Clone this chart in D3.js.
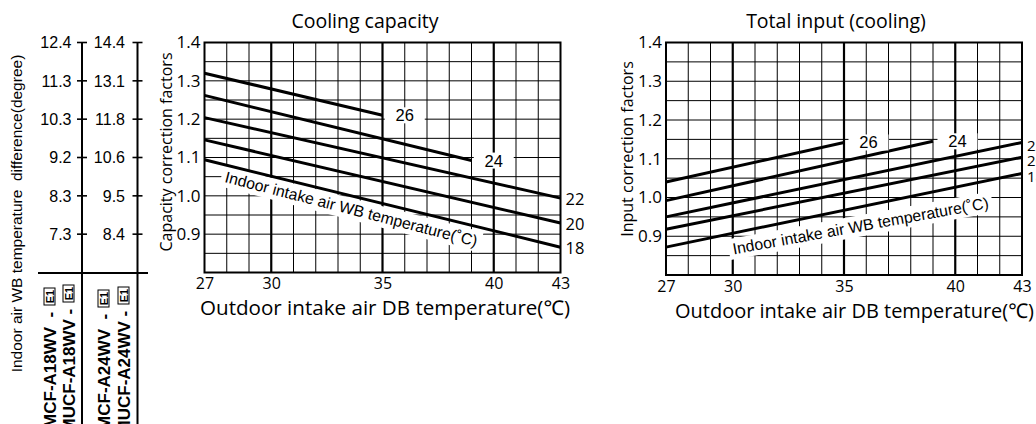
<!DOCTYPE html>
<html>
<head>
<meta charset="utf-8">
<script src="https://cdn.jsdelivr.net/npm/d3@7"></script>
<style>
  html, body { margin: 0; padding: 0; background: #fff; }
  svg { display: block; }
</style>
</head>
<body>
<svg id="chart" width="1036" height="424"></svg>
<script>
'use strict'

// outdoor intake air DB temperature (deg C)
const dbTicks = [27, 30, 35, 40, 43]
const dbMajor = [30, 35, 40]
// indoor intake air WB temperature curves (deg C)
const wbCurves = ['26', '24', '22', '20', '18']
const curveStartDB = [27, 27, 27, 27, 27]
const curveEndDB = [35, 39, 43, 43, 43]
// capacity correction factor at start / end of each curve
const coolingStart = [1.32, 1.262, 1.204, 1.146, 1.094]
const coolingEnd = [1.21, 1.092, 0.994, 0.929, 0.866]
// input correction factor at start / end of each curve
const inputStart = [1.04, 0.992, 0.95, 0.918, 0.872]
const inputEnd = [1.142, 1.145, 1.142, 1.104, 1.062]
const factorTicks = [1.4, 1.3, 1.2, 1.1, 1.0, 0.9]
// indoor air WB temperature difference, same rows as factorTicks
const wbDiff18 = ['12.4', '11.3', '10.3', '9.2', '8.3', '7.3']
const wbDiff24 = ['14.4', '13.1', '11.8', '10.6', '9.5', '8.4']
const modelNames = ['MCF-A18WV', 'MUCF-A18WV', 'MCF-A24WV', 'MUCF-A24WV']
const modelGaps = ['  - ', ' - ', '  - ', ' - ']

const FRUT = "'Open Sans', 'Noto Sans', sans-serif"
const ARIAL = "'Liberation Sans', Arial, sans-serif"
const svg = d3.select('#chart')

function panel (opt) {
  const x = d3.scaleLinear().domain([27, 43]).range([opt.left, opt.right])
  const y = d3.scaleLinear().domain([0.8, 1.4]).range([opt.bottom, opt.top])
  const g = svg.append('g')

  // grid
  g.append('g').selectAll('line')
    .data(d3.range(16, 29).map(i => i * 0.05))
    .join('line')
    .attr('x1', opt.left).attr('x2', opt.right)
    .attr('y1', d => y(d)).attr('y2', d => y(d))
    .attr('stroke', '#000').attr('stroke-width', 1)
  g.append('g').selectAll('line')
    .data(d3.range(27, 44))
    .join('line')
    .attr('x1', d => x(d)).attr('x2', d => x(d))
    .attr('y1', opt.top).attr('y2', opt.bottom)
    .attr('stroke', '#000')
    .attr('stroke-width', d => dbMajor.includes(d) ? 2.2 : 1)

  // caption along the curves, on a white band
  const cap = g.append('g')
    .attr('transform', `translate(${x(opt.capX)},${y(opt.capY)}) rotate(${opt.capAngle})`)
  const capText = cap.append('text')
    .attr('font-family', ARIAL).attr('font-size', 15.8)
    .text('Indoor intake air WB temperature(˚C)')
  const bb = capText.node().getBBox()
  cap.insert('rect', 'text')
    .attr('x', bb.x - 4).attr('y', bb.y - 2)
    .attr('width', bb.width + 8).attr('height', bb.height + 4)
    .attr('fill', '#fff')

  // curves
  const curves = wbCurves.map((k, i) => ({
    key: k,
    end: [curveEndDB[i], opt.end[i]],
    pts: [[curveStartDB[i], opt.start[i]], [curveEndDB[i], opt.end[i]]]
  }))
  const line = d3.line().x(d => x(d[0])).y(d => y(d[1]))
  g.append('g').selectAll('path')
    .data(curves)
    .join('path')
    .attr('d', d => line(d.pts))
    .attr('fill', 'none').attr('stroke', '#000').attr('stroke-width', 3)

  // curve labels: inside the plot when the curve stops early, else on the right
  const inner = curves.filter(d => d.end[0] < 43)
  const lab = g.append('g').selectAll('g')
    .data(inner)
    .join('g')
    .attr('transform', d => `translate(${x(d.end[0] + opt.labShift)},${y(d.end[1])})`)
  lab.append('rect')
    .attr('x', -20).attr('y', -8).attr('width', 40).attr('height', 16)
    .attr('fill', '#fff')
  lab.append('text')
    .attr('text-anchor', 'middle').attr('dy', '0.36em')
    .attr('font-family', ARIAL).attr('font-size', 16.5)
    .text(d => d.key)
  g.append('g').selectAll('text')
    .data(curves.filter(d => d.end[0] === 43))
    .join('text')
    .attr('x', opt.right + 5)
    .attr('y', d => y(d.end[1]) + opt.rightDy)
    .attr('dy', '0.36em')
    .attr('font-family', FRUT).attr('font-size', opt.rightSize)
    .text(d => d.key)

  // frame
  g.append('rect')
    .attr('x', opt.left).attr('y', opt.top)
    .attr('width', opt.right - opt.left).attr('height', opt.bottom - opt.top)
    .attr('fill', 'none').attr('stroke', '#000').attr('stroke-width', 2)

  // axes
  const ya = g.append('g')
    .attr('transform', `translate(${opt.left},0)`)
    .call(d3.axisLeft(y).tickValues(factorTicks).tickSize(0).tickPadding(4)
      .tickFormat(d3.format('.1f')))
  ya.select('.domain').remove()
  ya.attr('font-family', FRUT).attr('font-size', 17)

  const xa = g.append('g')
    .attr('transform', `translate(0,${opt.bottom})`)
    .call(d3.axisBottom(x).tickValues(dbTicks).tickSize(0).tickPadding(opt.xPad))
  xa.select('.domain').remove()
  xa.attr('font-family', FRUT).attr('font-size', 16)

  g.append('text')
    .attr('x', opt.titleX).attr('y', 27.5)
    .attr('text-anchor', 'middle')
    .attr('font-family', FRUT).attr('font-size', 19.5)
    .text(opt.title)
  g.append('text')
    .attr('x', opt.xTitleFrom).attr('y', opt.bottom + opt.xTitleDy)
    .attr('textLength', opt.xTitleTo - opt.xTitleFrom)
    .attr('lengthAdjust', 'spacingAndGlyphs')
    .attr('font-family', FRUT).attr('font-size', 20.3)
    .text('Outdoor intake air DB temperature(℃)')
  g.append('text')
    .attr('transform', `translate(${opt.yTitleX},${opt.yTitleY}) rotate(-90)`)
    .attr('text-anchor', 'middle')
    .attr('font-family', FRUT).attr('font-size', 16)
    .text(opt.yTitle)

  return { x, y }
}

const cooling = panel({
  left: 204.5, right: 560.5, top: 42.5, bottom: 272.5,
  start: coolingStart, end: coolingEnd,
  capX: 27.88, capY: 1.036, capAngle: 14.4,
  labShift: 1.0, rightDy: 1, rightSize: 16.5, xPad: 5,
  title: 'Cooling capacity', titleX: 365,
  xTitleFrom: 200, xTitleTo: 570, xTitleDy: 42.7,
  yTitle: 'Capacity correction factors', yTitleX: 172, yTitleY: 152
})

panel({
  left: 666, right: 1022, top: 42.5, bottom: 275,
  start: inputStart, end: inputEnd,
  capX: 30.04, capY: 0.853, capAngle: -10.3,
  labShift: 1.1, rightDy: 3, rightSize: 15, xPad: 6,
  title: 'Total input (cooling)', titleX: 836,
  xTitleFrom: 675, xTitleTo: 1034, xTitleDy: 43.3,
  yTitle: 'Input correction factors', yTitleX: 633, yTitleY: 149
})

// WB temperature difference scales on the left
const yl = cooling.y
const scales = [
  { x: 82, labels: wbDiff18, pad: 10.5 },
  { x: 137.5, labels: wbDiff24, pad: 12.5 }
]
const left = svg.append('g')
scales.forEach(s => {
  left.append('line')
    .attr('x1', s.x).attr('x2', s.x)
    .attr('y1', yl(1.4)).attr('y2', 424)
    .attr('stroke', '#000').attr('stroke-width', 2)
  left.append('g').selectAll('line')
    .data(factorTicks)
    .join('line')
    .attr('x1', s.x - 5).attr('x2', s.x + 5)
    .attr('y1', d => yl(d)).attr('y2', d => yl(d))
    .attr('stroke', '#000').attr('stroke-width', 1.6)
  left.append('g').selectAll('text')
    .data(factorTicks)
    .join('text')
    .attr('x', s.x - s.pad)
    .attr('y', d => yl(d))
    .attr('dy', '0.36em')
    .attr('text-anchor', 'end')
    .attr('font-family', ARIAL).attr('font-size', 16)
    .text((d, i) => s.labels[i])
})
left.append('line')
  .attr('x1', 38).attr('x2', 148).attr('y1', 273).attr('y2', 273)
  .attr('stroke', '#000').attr('stroke-width', 2)

left.append('text')
  .attr('transform', 'translate(22,213.5) rotate(-90)')
  .attr('text-anchor', 'middle')
  .attr('font-family', ARIAL).attr('font-size', 15.5)
  .style('white-space', 'pre')
  .text('Indoor air WB temperature  difference(degree)')

// model names, read bottom to top, each ending with a boxed E1
const modelX = [49.5, 68.5, 103.5, 123.5]
const modelTop = [288, 285, 290, 287]
modelNames.forEach((name, i) => {
  const m = left.append('g')
    .attr('transform', `translate(${modelX[i]},${modelTop[i]}) rotate(-90)`)
  m.append('text')
    .attr('x', -19).attr('y', 6)
    .attr('text-anchor', 'end')
    .attr('font-family', ARIAL).attr('font-size', 17).attr('font-weight', 'bold')
    .style('white-space', 'pre')
    .text(name + modelGaps[i])
  m.append('rect')
    .attr('x', -17).attr('y', -5.5).attr('width', 17).attr('height', 11)
    .attr('fill', '#fff').attr('stroke', '#000').attr('stroke-width', 1)
  m.append('text')
    .attr('x', -8.5).attr('y', 4)
    .attr('text-anchor', 'middle')
    .attr('font-family', ARIAL).attr('font-size', 11).attr('font-weight', 'bold')
    .text('E1')
})
</script>
</body>
</html>
